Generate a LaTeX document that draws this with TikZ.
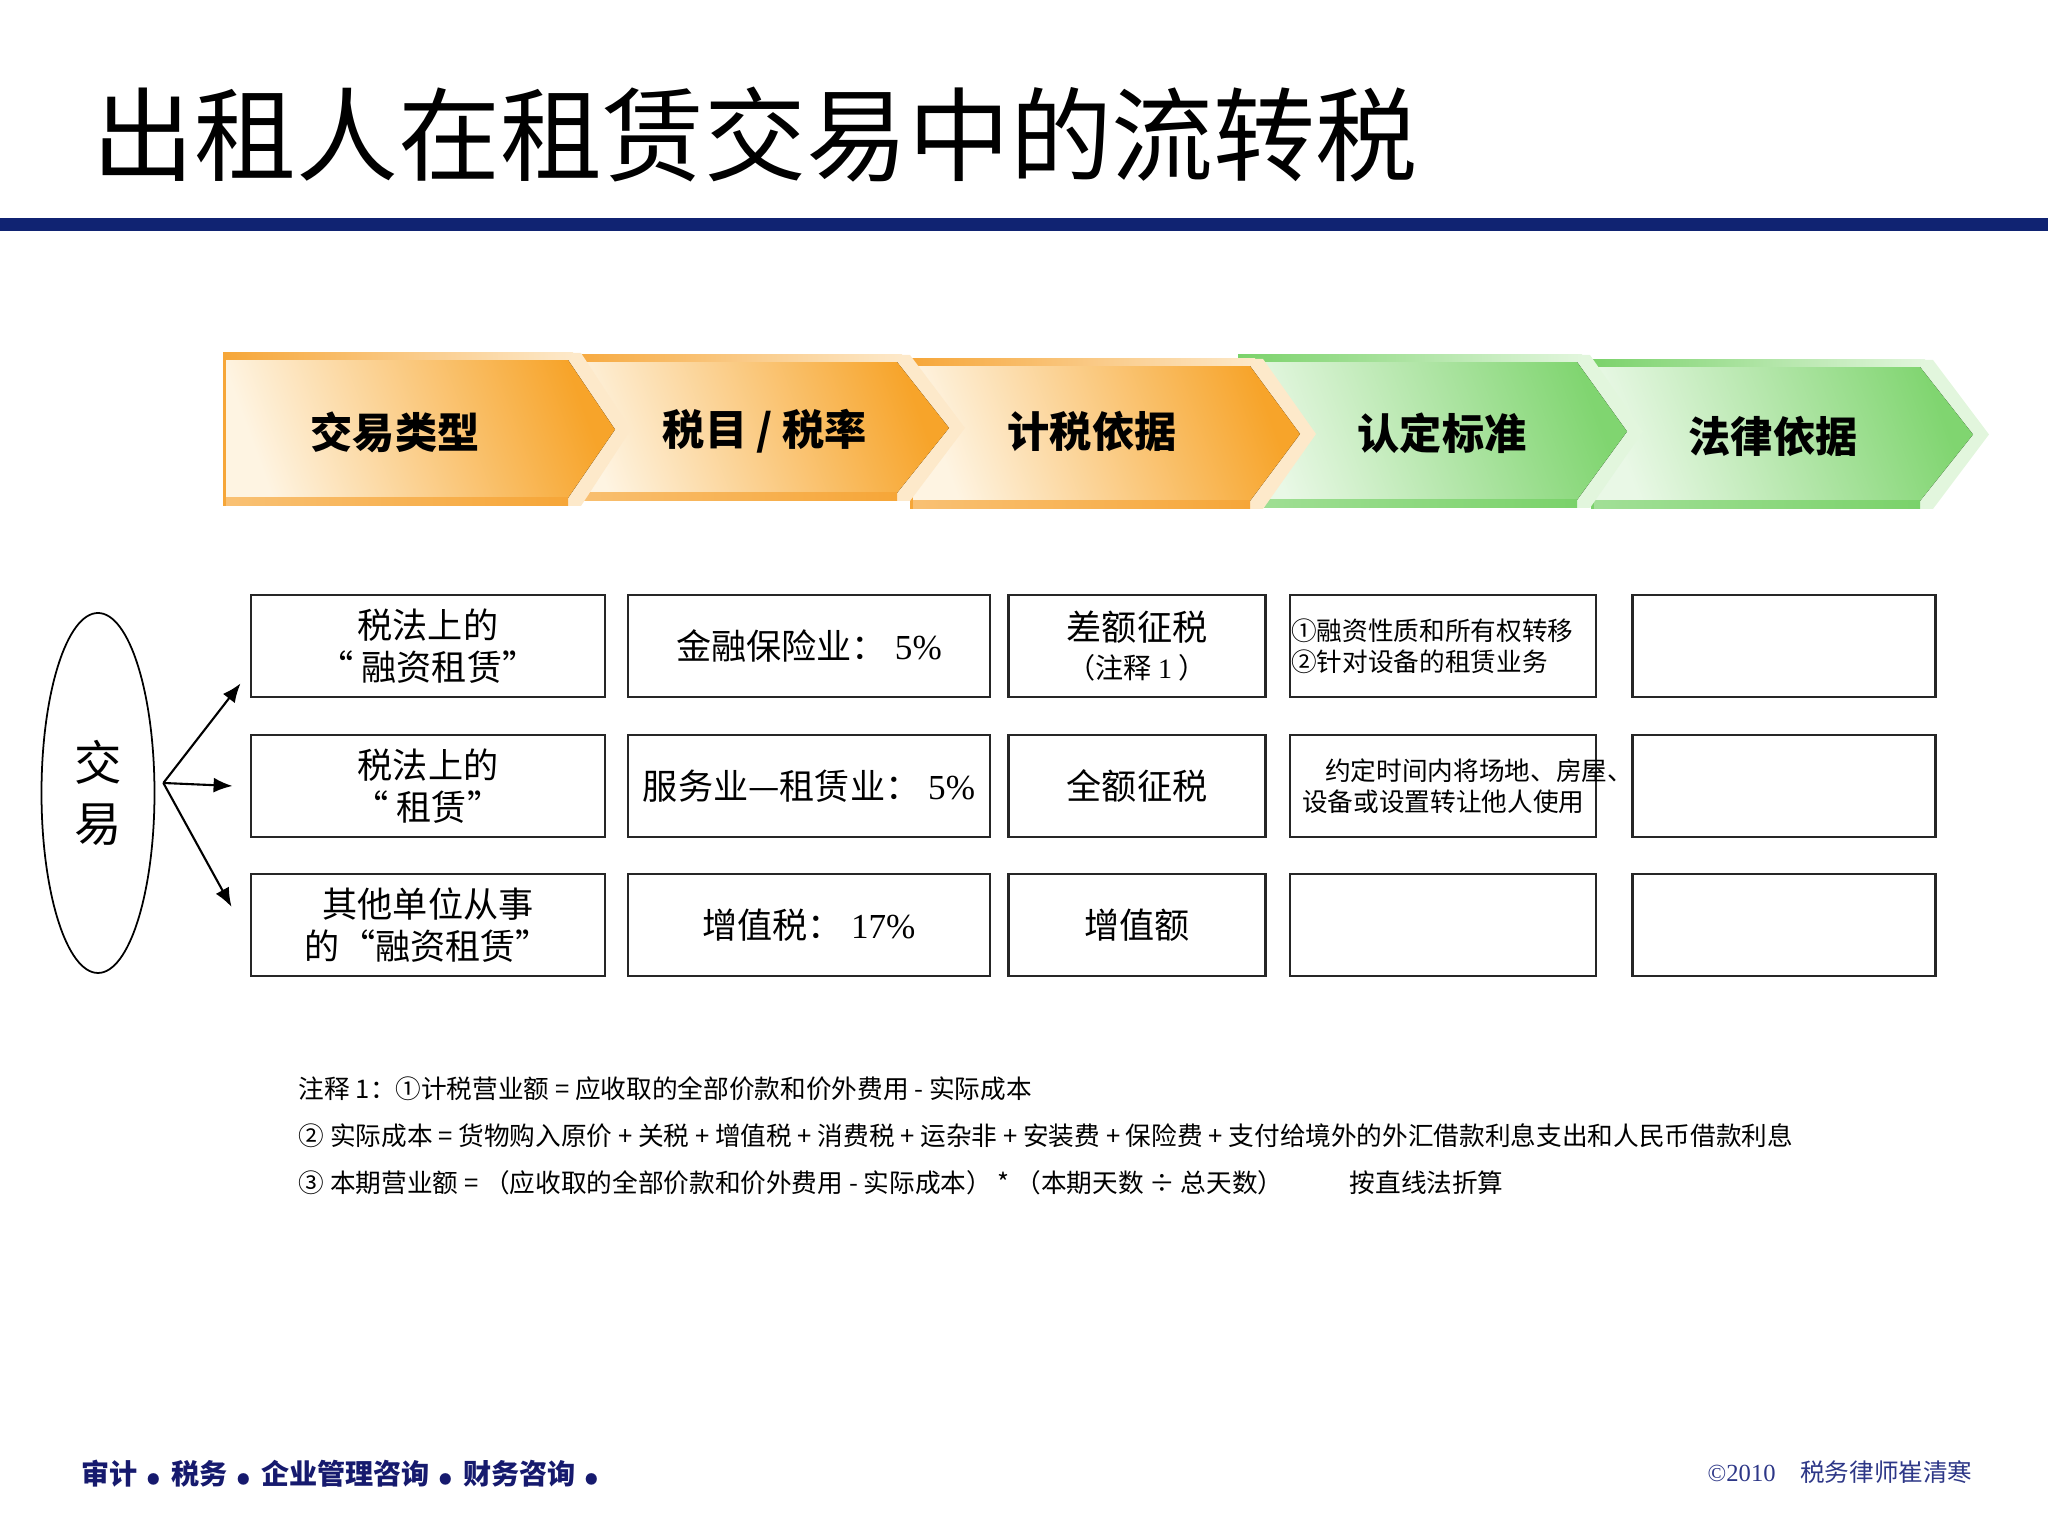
\documentclass[tikz,border=0pt]{standalone}
\usepackage{fontspec}
\setmainfont{Noto Sans CJK SC}
\newfontfamily\lat{Liberation Serif}
\usepackage{tikz}
\usetikzlibrary{shapes.geometric,arrows.meta}

\definecolor{navy}{RGB}{16,35,114}
\definecolor{footblue}{RGB}{22,26,110}
\definecolor{copyblue}{RGB}{45,55,135}
\definecolor{orgD}{RGB}{247,164,42}
\definecolor{orgL}{RGB}{254,244,226}
\definecolor{orgB}{RGB}{246,166,56}
\definecolor{orgE}{RGB}{253,233,202}
\definecolor{grnD}{RGB}{128,213,112}
\definecolor{grnL}{RGB}{233,248,230}
\definecolor{grnB}{RGB}{122,210,106}
\definecolor{grnE}{RGB}{226,246,221}

\newcommand{\footdot}{{\fontsize{15}{15}\selectfont .}}

\begin{document}
\begin{tikzpicture}[
    cell/.style={draw=black!85, line width=0.8pt, fill=white, minimum height=1.02cm,
      inner sep=1pt, align=center, font=\fontsize{10}{12}\selectfont},
    small/.style={anchor=west, align=left, inner sep=0pt, font=\fontsize{7.3}{8.9}\selectfont},
    head/.style={font=\bfseries\fontsize{12}{14}\selectfont},
    arr/.style={-{Latex[length=1.9mm,width=1.5mm]}, line width=0.6pt}
  ]
  \useasboundingbox (0,0) rectangle (20.48,15.36);

  % title and rule
  \node[anchor=west, inner sep=0pt, font=\fontsize{29}{31}\selectfont] (title) at (0.92,14.01) {出租人在租赁交易中的流转税};
  \fill[navy] (0,13.05) rectangle (20.48,13.18);

  % chevrons, right to left so each tip lies over the next one
  \foreach \xa/\xs/\xt/\ya/\yb/\cc in {15.91/19.20/19.73/11.76/10.27/grn, 12.38/15.77/16.27/11.81/10.28/grn,
      9.10/12.50/13.00/11.77/10.27/org, 5.60/8.97/9.49/11.81/10.35/org, 2.23/5.68/6.15/11.83/10.30/org} {
    \fill[\cc E] (\xa,\ya) -- (\xs+0.13,\ya) -- (\xt+0.16,{(\ya+\yb)/2}) -- (\xs+0.13,\yb) -- (\xa,\yb) -- cycle;
    \fill[top color=\cc D, bottom color=\cc L, shading angle=-70] (\xa,\ya-0.07) -- (\xs,\ya-0.07)
      -- (\xt,{(\ya+\yb)/2}) -- (\xs,\yb+0.08) -- (\xa,\yb+0.08) -- cycle;
    \fill[left color=\cc B, right color=\cc E] (\xa,\ya) rectangle (\xs+0.05,\ya-0.07);
    \fill[left color=\cc B!70!white, right color=\cc B] (\xa,\yb) rectangle (\xs,\yb+0.08);
    \fill[\cc B] (\xa,\yb) rectangle (\xa+0.03,\ya);
  }
  \node[head] (h1) at (3.95,11.04) {交易类型};
  \node[head] (h2) at (7.65,11.05) {税目 / 税率};
  \node[head] (h3) at (10.92,11.05) {计税依据};
  \node[head] (h4) at (14.42,11.03) {认定标准};
  \node[head] (h5) at (17.73,11.00) {法律依据};

  % table
  \node[cell, minimum width=3.54cm] (b11) at (4.28,8.90) {税法上的\\“ 融资租赁”};
  \node[cell, minimum width=3.62cm] (b12) at (8.09,8.90) {金融保险业： {\lat 5\%}};
  \node[cell, minimum width=2.57cm] (b13) at (11.37,8.90) {差额征税\\[-1pt]{\fontsize{8}{10}\selectfont （注释 {\lat 1} ）}};
  \node[cell, minimum width=3.06cm] (b14) at (14.43,8.90) {};
  \node[cell, minimum width=3.03cm] (b15) at (17.84,8.90) {};

  \node[cell, minimum width=3.54cm] (b21) at (4.28,7.50) {税法上的\\“ 租赁”};
  \node[cell, minimum width=3.62cm] (b22) at (8.09,7.50) {服务业—租赁业： {\lat 5\%}};
  \node[cell, minimum width=2.57cm] (b23) at (11.37,7.50) {全额征税};
  \node[cell, minimum width=3.06cm] (b24) at (14.43,7.50) {};
  \node[cell, minimum width=3.03cm] (b25) at (17.84,7.50) {};

  \node[cell, minimum width=3.54cm] (b31) at (4.28,6.11) {其他单位从事\\的“融资租赁”};
  \node[cell, minimum width=3.62cm] (b32) at (8.09,6.11) {增值税： {\lat 17\%}};
  \node[cell, minimum width=2.57cm] (b33) at (11.37,6.11) {增值额};
  \node[cell, minimum width=3.06cm] (b34) at (14.43,6.11) {};
  \node[cell, minimum width=3.03cm] (b35) at (17.84,6.11) {};

  \node[small] (t14) at ([xshift=0.02cm]b14.west) {①融资性质和所有权转移\\②针对设备的租赁业务};
  \node[small] (t24) at ([xshift=0.13cm]b24.west) {\hspace*{0.23cm}约定时间内将场地、房屋、\\设备或设置转让他人使用};

  % deal and arrows
  \node[draw, ellipse, line width=0.5pt, minimum width=1.13cm, minimum height=3.6cm, inner sep=0pt,
    align=center, font=\fontsize{13.5}{17.5}\selectfont] (deal) at (0.98,7.43) {交\\易};
  \coordinate (src) at ([shift={(0.08,0.1)}]deal.east);
  \draw[arr] (src) -- ([shift={(-0.09,0.15)}]b11.south west);
  \draw[arr] (src) -- ([xshift=-0.17cm]b21.west);
  \draw[arr] (src) -- ([shift={(-0.18,0.18)}]b31.west);

  % notes
  \node[anchor=west, align=left, inner sep=0pt, font=\fontsize{7.3}{13.4}\selectfont] (notes) at (2.98,4.00)
    {注释 1：①计税营业额 = 应收取的全部价款和价外费用 - 实际成本\\
     ② 实际成本 = 货物购入原价 + 关税 + 增值税 + 消费税 + 运杂非 + 安装费 + 保险费 + 支付给境外的外汇借款利息支出和人民币借款利息\\
     ③ 本期营业额 = （应收取的全部价款和价外费用 - 实际成本） * （本期天数 ÷ 总天数）};
  \node[anchor=west, inner sep=0pt, font=\fontsize{7.3}{9}\selectfont] (straight) at (13.49,3.53) {按直线法折算};

  % footer
  \node[anchor=west, inner sep=0pt, text=footblue, font=\bfseries\fontsize{8}{10}\selectfont] (tag) at (0.81,0.62)
    {审计 \footdot{} 税务 \footdot{} 企业管理咨询 \footdot{} 财务咨询 \footdot};
  \node[anchor=west, inner sep=0pt, text=copyblue, font=\fontsize{7}{9}\selectfont] (copy) at (17.07,0.64)
    {{\lat ©2010}\quad 税务律师崔清寒};
\end{tikzpicture}
\end{document}
